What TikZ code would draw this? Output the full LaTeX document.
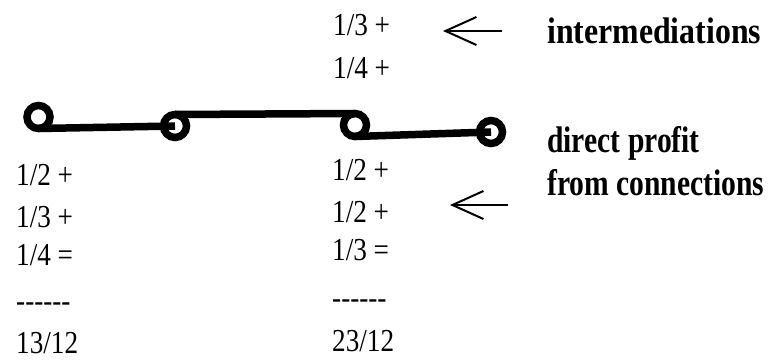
\documentclass[tikz,border=0pt]{standalone}
\usepackage{fontspec}
\setmainfont{Liberation Serif}
\newfontfamily\regf[FakeStretch=0.85]{Liberation Serif}
\newfontfamily\boldf[FakeStretch=0.86]{Liberation Serif}
\newfontfamily\boldg[FakeStretch=0.8]{Liberation Serif}
\usetikzlibrary{arrows.meta}
\begin{document}
\begin{tikzpicture}[x=1pt,y=1pt,
  nd/.style={circle, draw, line width=7.5pt, minimum size=23pt, inner sep=0pt, outer sep=0pt},
  lk/.style={line width=7.5pt},
  num/.style={anchor=base west, inner sep=0pt, font=\regf\fontsize{32}{32}\selectfont},
  lbl/.style={anchor=base west, inner sep=0pt, align=left, font=\boldf\bfseries\fontsize{37}{43}\selectfont},
  lblb/.style={lbl, font=\boldg\bfseries\fontsize{37}{43}\selectfont},
  pt/.style={line width=2pt, -{Straight Barb[length=31pt,width=28pt]}}]
\useasboundingbox (0,0) rectangle (769,360);
% chain
\node[nd] (c1) at (38.5,243) {};
\node[nd] (c2) at (175,234) {};
\node[nd] (c3) at (355,235) {};
\node[nd] (c4) at (491,228) {};
\draw[lk] (c1.south) -- (c2.center);
\draw[lk] (c2.north) -- (c3.north);
\draw[lk] (c3.south) -- (c4.center);
% top column
\node[num] (t1) at (333,325) {1/3 +};
\node[num] (t2) at (333,282) {1/4 +};
% left column
\node[num] (l1) at (16,175) {1/2 +};
\node[num] (l2) at (16,133) {1/3 +};
\node[num] (l3) at (16,95) {1/4 =};
\node[num] (l4) at (16,49) {------};
\node[num] (l5) at (16,7) {13/12};
% right column
\node[num] (r1) at (332,180) {1/2 +};
\node[num] (r2) at (332,138) {1/2 +};
\node[num] (r3) at (332,100) {1/3 =};
\node[num] (r4) at (332,52) {------};
\node[num] (r5) at (332,9) {23/12};
% labels
\node[lbl] (inter) at (547,317) {intermediations};
\node[lblb] (direct) at (547,165) {direct profit\\from connections};
% arrows
\coordinate (a1s) at (502,329);
\coordinate (a1e) at (443,329);
\coordinate (a2s) at (508,155);
\coordinate (a2e) at (450,155);
\draw[pt] (a1s) -- (a1e);
\draw[pt] (a2s) -- (a2e);
\end{tikzpicture}
\end{document}
